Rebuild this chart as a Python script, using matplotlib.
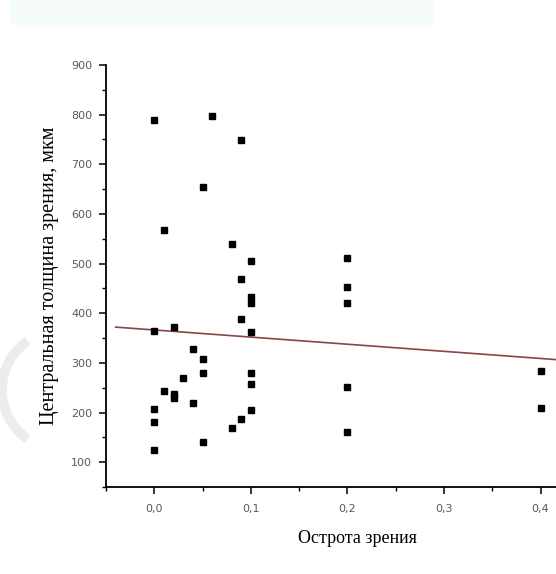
import matplotlib
matplotlib.use("Agg")
import matplotlib.pyplot as plt
from matplotlib.ticker import MultipleLocator, FuncFormatter
from matplotlib.patches import Arc, Rectangle

# острота зрения / центральная толщина
acuity = [0.0, 0.06, 0.09, 0.05, 0.01, 0.08, 0.1, 0.09, 0.1, 0.1, 0.09, 0.1, 0.0,
          0.02, 0.04, 0.05, 0.05, 0.03, 0.01, 0.02, 0.02, 0.04, 0.0, 0.0, 0.0, 0.05,
          0.08, 0.09, 0.1, 0.1, 0.1, 0.2, 0.2, 0.2, 0.2, 0.2, 0.4, 0.4]
thickness = [790, 798, 748, 655, 568, 540, 505, 468, 432, 420, 388, 362, 365,
             373, 328, 308, 279, 270, 243, 238, 230, 220, 208, 181, 125, 141,
             168, 186, 205, 279, 257, 511, 453, 421, 251, 160, 284, 210]

# линия регрессии (концы)
fit_x = [-0.04, 0.42]
fit_y = [372, 306]

x_major = [0.0, 0.1, 0.2, 0.3, 0.4]
y_major = [100, 200, 300, 400, 500, 600, 700, 800, 900]

fig = plt.figure(figsize=(5.56, 5.74), dpi=100)
ax = fig.add_axes([0.1906, 0.1516, 1 - 0.1906, 0.8868 - 0.1516])

# faint artifacts of the scanned original
fig.add_artist(Rectangle((0.018, 0.957), 0.76, 0.043, transform=fig.transFigure,
                         color="#f6fbfb", lw=0, zorder=0))
fig.add_artist(Arc((0.62, 1.84), 1.2, 1.2, theta1=125, theta2=235,
                   transform=fig.dpi_scale_trans, color="#ececec", lw=7, zorder=0))

ax.plot(fit_x, fit_y, color="#8a4545", lw=1.2, zorder=2)
ax.plot(acuity, thickness, "s", color="black", markersize=4.3, zorder=3)

ax.set_xlim(-0.05, 0.416)
ax.set_ylim(50, 900)

ax.spines["top"].set_visible(False)
ax.spines["right"].set_visible(False)
ax.spines["left"].set_linewidth(1.3)
ax.spines["bottom"].set_linewidth(1.3)

ax.set_xticks(x_major)
ax.set_yticks(y_major)
ax.xaxis.set_minor_locator(MultipleLocator(0.05))
ax.yaxis.set_minor_locator(MultipleLocator(50))
ax.xaxis.set_major_formatter(FuncFormatter(lambda v, p: f"{v:.1f}".replace(".", ",")))
ax.yaxis.set_major_formatter(FuncFormatter(lambda v, p: f"{int(v)}"))

ax.tick_params(which="major", direction="out", length=5, width=1.1,
               labelsize=8, labelcolor="#595959", pad=5)
ax.tick_params(which="minor", direction="out", length=3, width=1.0)
ax.tick_params(axis="x", which="major", pad=7)
for lab in ax.get_xticklabels() + ax.get_yticklabels():
    lab.set_family("DejaVu Sans")

ax.set_xlabel("Острота зрения", family="Liberation Serif", fontsize=13)
ax.set_ylabel("Центральная толщина зрения, мкм", family="Liberation Serif",
              fontsize=14.5)
ax.xaxis.set_label_coords(0.558, -0.102)
ax.yaxis.set_label_coords(-0.105, 0.5)

fig.savefig("out.png", dpi=100)
